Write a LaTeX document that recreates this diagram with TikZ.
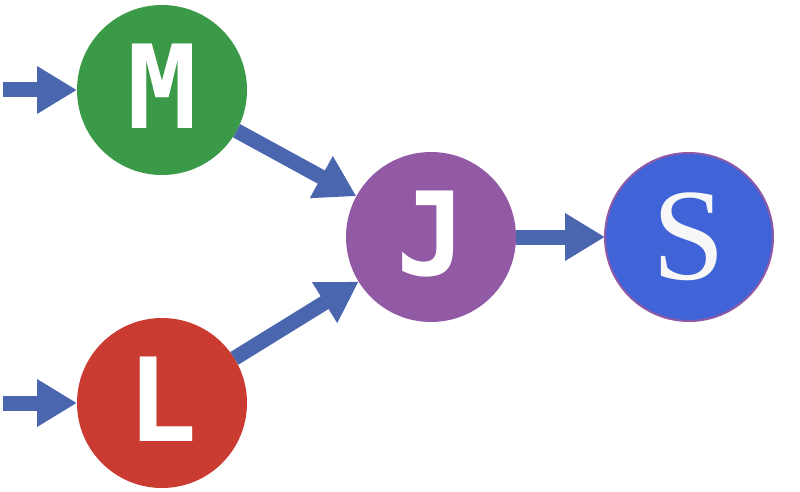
\documentclass[tikz,border=0pt]{standalone}
\usepackage{fontspec}
\setmainfont{Liberation Serif}
\newfontfamily\letterfont{DejaVu Sans Mono}
\usetikzlibrary{arrows.meta}
\definecolor{arrowblue}{HTML}{4A66AF}
\definecolor{mgreen}{HTML}{3A9A48}
\definecolor{lred}{HTML}{CA3C32}
\definecolor{jpurple}{HTML}{925AA5}
\definecolor{sblue}{HTML}{4064D8}
\definecolor{sborder}{HTML}{8E5AA5}
\tikzset{
  ball/.style={circle, inner sep=0pt, outer sep=0pt, minimum size=170pt, text=white},
  sansletter/.style={font=\letterfont\bfseries\fontsize{116}{116}\selectfont, text depth=7pt},
  flow/.style={draw=arrowblue, line width=15pt, -{Triangle[length=40pt,width=45pt]}}
}
\begin{document}
\begin{tikzpicture}[x=1pt,y=-1pt]
\useasboundingbox (0,0) rectangle (800,492);
\node[ball, fill=mgreen, sansletter] (m) at (162,90) {M};
\node[ball, fill=lred, sansletter] (l) at (162,403) {L};
\node[ball, fill=jpurple, sansletter] (j) at (431,237) {J};
\node[ball, fill=sblue, draw=sborder, line width=2pt, minimum size=168pt, text=white!97!black, font=\fontsize{131}{131}\selectfont] (s) at (689,237) {S};
\coordinate (min) at (3,90);
\coordinate (lin) at (3,403);
\draw[flow] (min) -- (m);
\draw[flow] (lin) -- (l);
\draw[flow] (m) -- (j);
\draw[flow] (l) -- (j);
\draw[flow] (j) -- (s);
\end{tikzpicture}
\end{document}
